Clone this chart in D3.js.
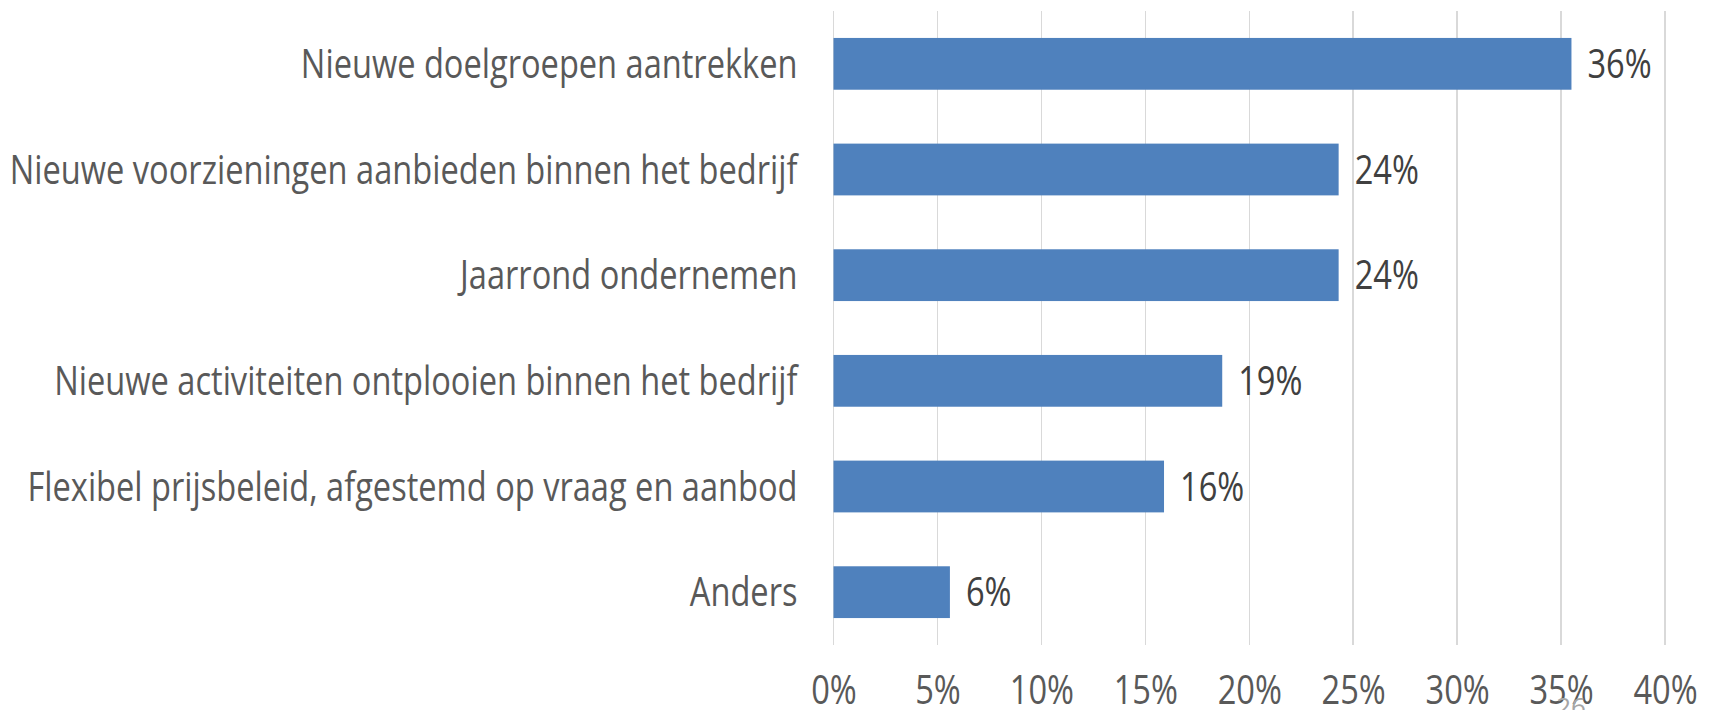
<!DOCTYPE html>
<html lang="nl">
<head>
<meta charset="utf-8">
<title>Redenen</title>
<script src="https://cdn.jsdelivr.net/npm/d3@7"></script>
<style>
body { margin: 0; background: #fff; }
text { font-family: "Open Sans", sans-serif; }
.grid line { stroke: #d9d9d9; stroke-width: 1.5; shape-rendering: crispEdges; }
</style>
</head>
<body>
<script>
// data
var categories = [
    "Nieuwe doelgroepen aantrekken",
    "Nieuwe voorzieningen aanbieden binnen het bedrijf",
    "Jaarrond ondernemen",
    "Nieuwe activiteiten ontplooien binnen het bedrijf",
    "Flexibel prijsbeleid, afgestemd op vraag en aanbod",
    "Anders"
];
var values = [35.5, 24.3, 24.3, 18.7, 15.9, 5.6];
var valueLabels = ["36%", "24%", "24%", "19%", "16%", "6%"];
var xTicks = [0, 5, 10, 15, 20, 25, 30, 35, 40];
var pageNumber = "26";

var outer_width = 1715, outer_height = 710;
var margin = { top: 11, right: 50, bottom: 65, left: 833.5 };

// Open Sans is wider than the original narrow font, squeeze it a bit
var condense = "scale(0.815,1)";

var svg = d3.select("body").append("svg")
    .attr("width", outer_width)
    .attr("height", outer_height);

var xScale = d3.scaleLinear()
    .domain([0, 40])
    .range([margin.left, 1665]);

var yScale = d3.scaleBand()
    .domain(categories)
    .range([margin.top, outer_height - margin.bottom])
    .paddingInner(0.51)
    .paddingOuter(0.255);

// vertical gridlines
svg.append("g").attr("class", "grid")
    .selectAll("line")
    .data(xTicks)
    .enter().append("line")
    .attr("x1", function(d) { return xScale(d); })
    .attr("x2", function(d) { return xScale(d); })
    .attr("y1", margin.top)
    .attr("y2", outer_height - margin.bottom);

// bars
svg.selectAll("rect.bar")
    .data(values)
    .enter().append("rect")
    .attr("class", "bar")
    .attr("x", xScale(0))
    .attr("y", function(d, i) { return yScale(categories[i]); })
    .attr("width", function(d) { return xScale(d) - xScale(0); })
    .attr("height", yScale.bandwidth())
    .style("fill", "#4f81bd");

// value labels
svg.selectAll("g.val")
    .data(values)
    .enter().append("g")
    .attr("class", "val")
    .attr("transform", function(d, i) {
        return "translate(" + (xScale(d) + 16) + "," + (yScale(categories[i]) + yScale.bandwidth() / 2 + 14) + ")";
    })
    .append("text")
    .attr("transform", condense)
    .attr("font-size", "40px")
    .attr("fill", "#404040")
    .text(function(d, i) { return valueLabels[i]; });

// category labels
svg.selectAll("g.cat")
    .data(categories)
    .enter().append("g")
    .attr("class", "cat")
    .attr("transform", function(d) {
        return "translate(" + (xScale(0) - 36) + "," + (yScale(d) + yScale.bandwidth() / 2 + 14) + ")";
    })
    .append("text")
    .attr("transform", condense)
    .attr("text-anchor", "end")
    .attr("font-size", "40px")
    .attr("fill", "#595959")
    .text(function(d) { return d; });

// x axis tick labels
var xAxis = d3.axisBottom(xScale)
    .tickValues(xTicks)
    .tickSize(0)
    .tickPadding(0)
    .tickFormat(function(d) { return d + "%"; });

var gx = svg.append("g")
    .attr("transform", "translate(0," + (outer_height - margin.bottom + 59) + ")")
    .call(xAxis);
gx.select(".domain").remove();
gx.selectAll("text")
    .attr("dy", null)
    .attr("y", 0)
    .attr("transform", condense)
    .attr("font-size", "40px")
    .attr("font-family", null)
    .attr("fill", "#595959");

// faint page number, cut off at the bottom edge
svg.append("text")
    .attr("x", 1571)
    .attr("y", 716)
    .attr("text-anchor", "middle")
    .attr("font-size", "26px")
    .attr("fill", "#a6a6a6")
    .text(pageNumber);
</script>
</body>
</html>
